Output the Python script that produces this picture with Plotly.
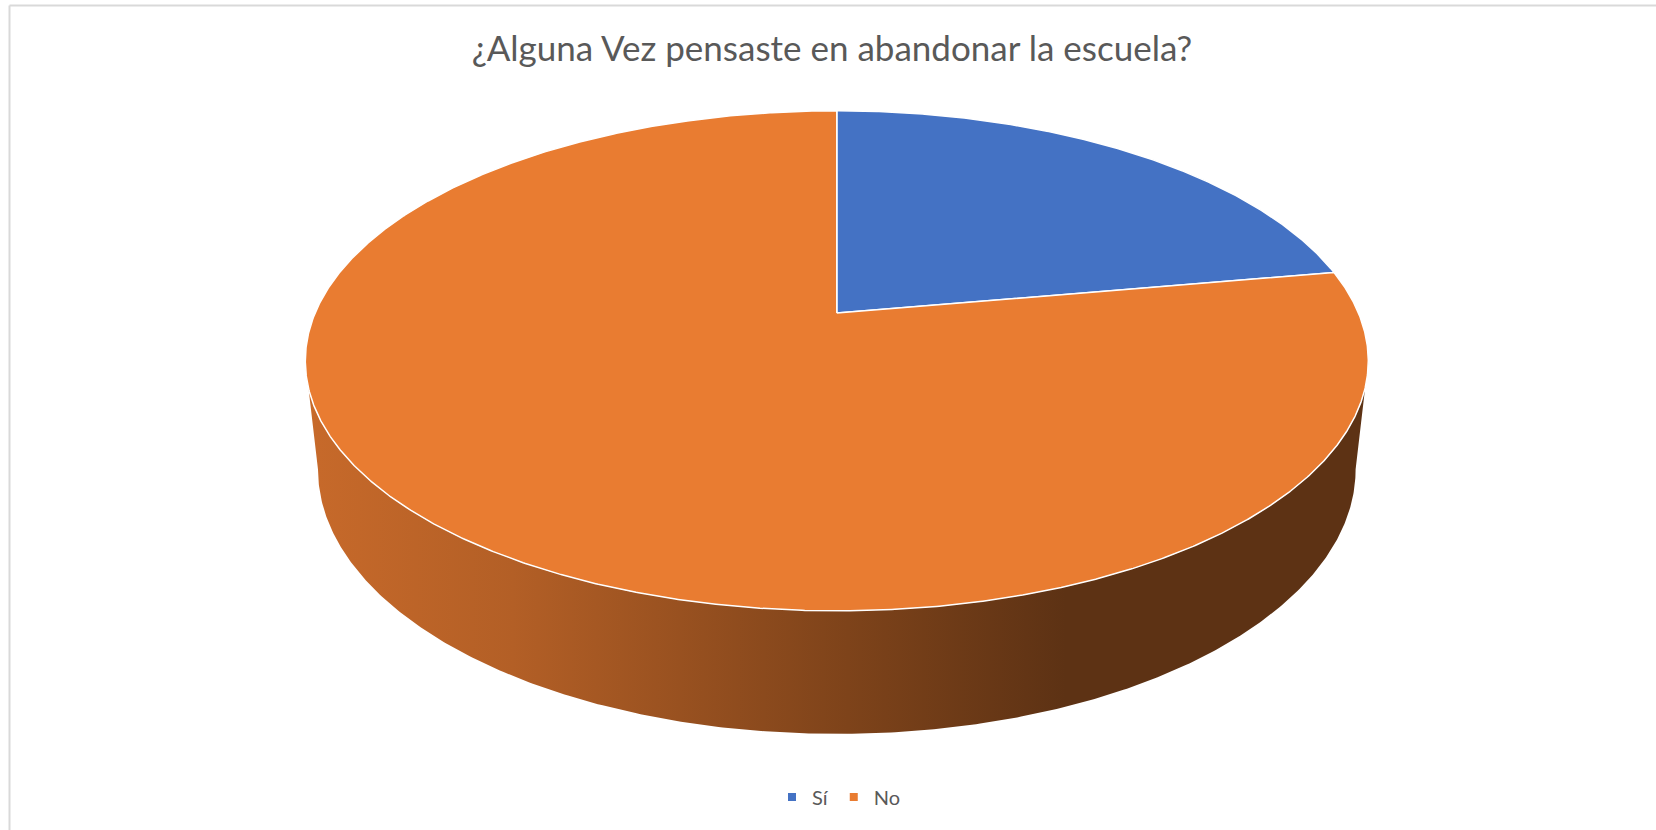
import numpy as np
import plotly.graph_objects as go

# ---- data ----
labels = ["Sí", "No"]
values = [2, 7]

# ---- style ----
slice_colors = ["#4472C4", "#E97C31"]
TITLE = "¿Alguna Vez pensaste en abandonar la escuela?"
FONT = "Lato"
TEXT_COLOR = "#595959"

W, H_PX = 1656, 830
# 3D pie projection parameters (pixel space)
CX, CY = 836.8, 313.0
ELEV = np.radians(27.5)
DIST = 4.637
FOC = 2419.0
THICK = 0.2364
SIN_E, COS_E = np.sin(ELEV), np.cos(ELEV)

# side shading (fraction across side width -> brightness factor)
SHADE = [(0.0, 0.86), (0.012, 0.85), (0.195, 0.77), (0.51, 0.54), (0.715, 0.40), (1.0, 0.40)]


def project(theta_deg, z, r=1.0):
    t = np.radians(theta_deg)
    x, y = r * np.sin(t), r * np.cos(t)
    depth = DIST + y * COS_E - z * SIN_E
    sx = CX + FOC * x / depth
    sy = CY - FOC * (y * SIN_E + z * COS_E) / depth
    return sx, sy


def hex_to_rgb(h):
    h = h.lstrip("#")
    return tuple(int(h[i:i + 2], 16) for i in (0, 2, 4))


def shade(hexc, k):
    r, g, b = hex_to_rgb(hexc)
    return "rgb(%d,%d,%d)" % (round(r * k), round(g * k), round(b * k))


# slice angles (clockwise from the back / 12 o'clock)
total = float(sum(values))
bounds = np.concatenate([[0.0], np.cumsum(values) / total * 360.0])

# silhouette angles of the cylinder
tt = np.linspace(0, 360, 7201)
sx_top, _ = project(tt, 0.0)
sx_bot, _ = project(tt, -THICK)
thR_top, thL_top = tt[np.argmax(sx_top)], tt[np.argmin(sx_top)]
thR_bot, thL_bot = tt[np.argmax(sx_bot)], tt[np.argmin(sx_bot)]
x_left = min(sx_bot.min(), sx_top.min())
x_right = max(sx_bot.max(), sx_top.max())

fig = go.Figure()

# ---- visible sides ----
for i, (lab, col) in enumerate(zip(labels, slice_colors)):
    a0, a1 = bounds[i], bounds[i + 1]
    lo_t, hi_t = max(a0, thR_top), min(a1, thL_top)
    lo_b, hi_b = max(a0, thR_bot), min(a1, thL_bot)
    if hi_t <= lo_t or hi_b <= lo_b:
        continue
    ta = np.linspace(lo_t, hi_t, 400)
    tb = np.linspace(hi_b, lo_b, 400)
    xs1, ys1 = project(ta, 0.0)
    xs2, ys2 = project(tb, -THICK)
    xs = np.concatenate([xs1, xs2, xs1[:1]])
    ys = np.concatenate([ys1, ys2, ys1[:1]])
    fig.add_trace(go.Scatter(
        x=xs, y=ys, mode="lines", fill="toself",
        line=dict(width=0, color=shade(col, 0.5)),
        fillgradient=dict(type="horizontal", start=x_left, stop=x_right,
                          colorscale=[[p, shade(col, k)] for p, k in SHADE]),
        hoverinfo="skip", showlegend=False))

# ---- top faces ----
for i, (lab, col) in enumerate(zip(labels, slice_colors)):
    a0, a1 = bounds[i], bounds[i + 1]
    ta = np.linspace(a0, a1, max(int((a1 - a0) * 4), 20))
    xs, ys = project(ta, 0.0)
    ax, ay = project(0.0, 0.0, r=0.0)
    px = np.concatenate([[ax], xs, [ax]])
    py = np.concatenate([[ay], ys, [ay]])
    fig.add_trace(go.Scatter(
        x=px, y=py, mode="lines", fill="toself", fillcolor=col,
        line=dict(color="white", width=1.5),
        hoverinfo="skip", showlegend=False))

# ---- legend entries ----
for lab, col in zip(labels, slice_colors):
    fig.add_trace(go.Scatter(
        x=[None], y=[None], mode="markers", name=lab,
        marker=dict(symbol="square", size=8, color=col)))

fig.update_layout(
    width=W, height=H_PX,
    margin=dict(l=0, r=0, t=0, b=0),
    paper_bgcolor="white", plot_bgcolor="white",
    xaxis=dict(range=[0, W], visible=False, fixedrange=True),
    yaxis=dict(range=[H_PX, 0], visible=False, fixedrange=True),
    title=dict(text=TITLE, x=832 / W, xref="container", xanchor="center",
               y=1 - 49 / H_PX, yref="container", yanchor="middle",
               font=dict(family=FONT, size=35, color=TEXT_COLOR)),
    showlegend=True,
    legend=dict(orientation="h", x=839 / W, xanchor="center",
                y=1 - 797 / H_PX, yanchor="middle",
                font=dict(family=FONT, size=20, color=TEXT_COLOR),
                itemwidth=30, bgcolor="rgba(0,0,0,0)"),
    shapes=[
        dict(type="line", xref="x", yref="y", x0=9.5, x1=9.5, y0=5.5, y1=H_PX,
             line=dict(color="#d9d9d9", width=2)),
        dict(type="line", xref="x", yref="y", x0=9.5, x1=W, y0=5.5, y1=5.5,
             line=dict(color="#d9d9d9", width=2)),
    ],
)

fig.write_html("out.html", config={"displayModeBar": False},
               post_script="document.body.style.margin='0';")
